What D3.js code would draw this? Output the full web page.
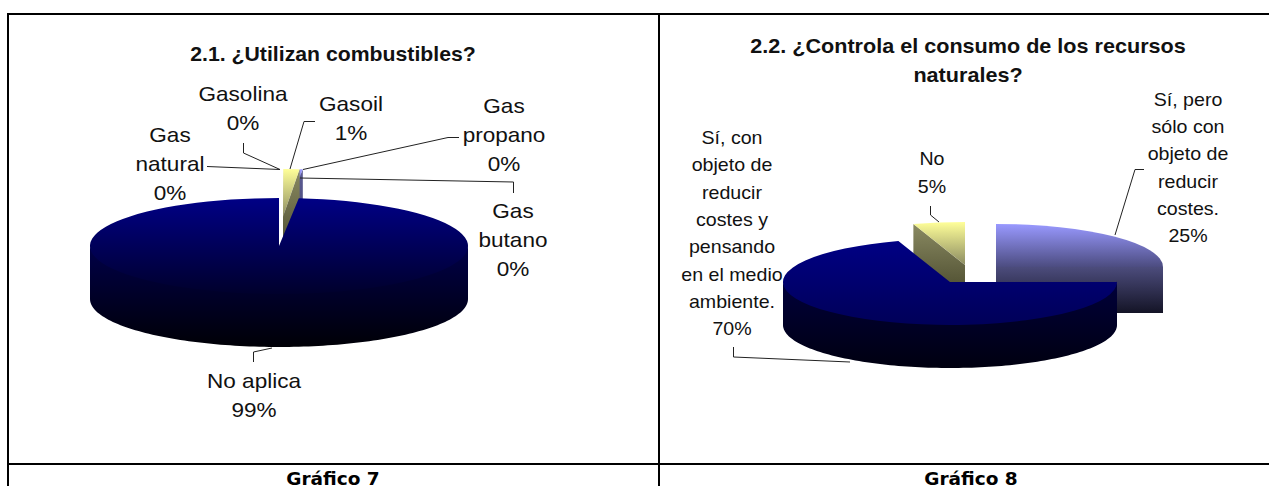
<!DOCTYPE html>
<html>
<head>
<meta charset="utf-8" />
<title>Gráficos 7 y 8</title>
<style>
  html, body { margin: 0; padding: 0; background: #fff; overflow: hidden; }
  svg { display: block; }
  text { font-family: "Liberation Sans", Arial, sans-serif; fill: #111; }
</style>
</head>
<body>
<script src="https://d3js.org/d3.v7.min.js"></script>
<script>
// data
var categories7 = ["Gas natural", "Gasolina", "Gasoil", "Gas propano", "Gas butano", "No aplica"];
var values7 = [0.02, 0.02, 1.36, 0.1, 0.17, 98.33];
var percents7 = ["0%", "0%", "1%", "0%", "0%", "99%"];

var categories8 = ["Sí, pero sólo con objeto de reducir costes.", "Sí, con objeto de reducir costes y pensando en el medio ambiente.", "No"];
var values8 = [25, 70, 5];
var percents8 = ["25%", "70%", "5%"];

var title7 = ["2.1. ¿Utilizan combustibles?"];
var title8 = ["2.2. ¿Controla el consumo de los recursos", "naturales?"];
var captions = ["Gráfico 7", "Gráfico 8"];

var width = 1269, height = 486;

// colours per slice: top start, top end, side start, side end
var navy7 = ["#000086", "#00002c", "#00004a", "#000006"];
var navy8 = ["#000084", "#000058", "#00003c", "#000010"];
var yellow = ["#ffff99", "#8c8c62", "#8a8a62", "#3f3f24"];
var periwinkle = ["#9999ff", "#4c4c80", "#4c4c7c", "#141426"];
var sliver = ["#9999ff", "#6a6aa0", "#5c5c94", "#3c3c66"];

var chart7 = {
  pie: {cx: 279, cy: 246, rx: 189, ry: 48, depth: 53},
  colors: [yellow, yellow, yellow, sliver, sliver, navy7],
  offsets: [[4, -29], [4, -29], [4, -29], [4, -29], [4, -29], [0, 0]],
  extraDepth: [0, 0, 0, 0, 0, 0],
  order: [3, 4, 0, 1, 2, 5]
};
var chart8 = {
  pie: {cx: 950, cy: 282, rx: 167, ry: 43, depth: 43},
  colors: [periwinkle, navy8, yellow],
  offsets: [[46, -15], [0, 0], [15, -17]],
  extraDepth: [3, 0, 0],
  order: [0, 2, 1]
};

var svg = d3.select("body").append("svg").attr("width", width).attr("height", height);
var defs = svg.append("defs");
var gradId = 0;

function gradient(from, to) {
  var id = "g" + (gradId++);
  var g = defs.append("linearGradient").attr("id", id).attr("x1", 0).attr("y1", 0).attr("x2", 0).attr("y2", 1);
  g.append("stop").attr("offset", 0).attr("stop-color", from);
  g.append("stop").attr("offset", 1).attr("stop-color", to);
  return "url(#" + id + ")";
}

function drawPie(values, chart) {
  var p = chart.pie;
  var arcs = d3.pie().sort(null).value(d => d).startAngle(0).endAngle(2 * Math.PI)(values);
  var arc = d3.arc().innerRadius(0).outerRadius(p.rx);
  var line = d3.line();

  chart.order.forEach(function (i) {
    var a = arcs[i], col = chart.colors[i];
    var cx = p.cx + chart.offsets[i][0], cy = p.cy + chart.offsets[i][1];
    var depth = p.depth + chart.extraDepth[i];
    var rim = t => [cx + p.rx * Math.sin(t), cy - p.ry * Math.cos(t)];
    var down = q => [q[0], q[1] + depth];
    var g = svg.append("g");
    var sideFill = gradient(col[2], col[3]);

    // cut faces, only the ones turned to the viewer
    [[a.startAngle, a.startAngle > Math.PI && a.startAngle < 2 * Math.PI],
     [a.endAngle, a.endAngle > 0 && a.endAngle < Math.PI]].forEach(function (f) {
      if (!f[1]) return;
      var e = rim(f[0]);
      g.append("path")
       .attr("d", line([[cx, cy], e, down(e), [cx, cy + depth]]) + "Z")
       .attr("fill", sideFill);
    });

    // outer wall, started 2px higher so no light seam shows under the top
    var from = Math.max(a.startAngle, Math.PI / 2), to = Math.min(a.endAngle, 3 * Math.PI / 2);
    if (to > from) {
      var ts = d3.range(0, 121).map(k => from + (to - from) * k / 120);
      var top = ts.map(rim);
      var upper = top.map(q => [q[0], q[1] - 2]);
      g.append("path")
       .attr("d", line(upper.concat(top.slice().reverse().map(down))) + "Z")
       .attr("fill", sideFill);
    }

    // top surface
    g.append("path")
     .attr("d", arc(a))
     .attr("transform", "translate(" + cx + "," + cy + ") scale(1," + (p.ry / p.rx) + ")")
     .attr("fill", gradient(col[0], col[1]));
  });
}

function leader(points) {
  svg.append("path")
     .attr("d", d3.line()(points))
     .attr("fill", "none")
     .attr("stroke", "#222")
     .attr("stroke-width", 1);
}

function label(lines, x, y, step, size, stretch, weight) {
  lines.forEach(function (t, i) {
    svg.append("text")
       .attr("transform", "translate(" + x + "," + (y + i * step) + ") scale(" + stretch + ",1)")
       .attr("text-anchor", "middle")
       .style("font-size", size + "px")
       .style("font-weight", weight || "normal")
       .text(t);
  });
}

drawPie(values7, chart7);
drawPie(values8, chart8);

// leader lines
leader([[207, 166.5], [280, 169.5]]);
leader([[243.5, 143], [243.5, 153], [280, 169.5]]);
leader([[315, 121.5], [304, 121.5], [290, 169]]);
leader([[459, 137.5], [448, 137.5], [303, 169.5]]);
leader([[513.5, 193], [513.5, 182], [300, 178]]);
leader([[253.5, 362], [253.5, 352], [272, 348]]);
leader([[930.5, 206], [930.5, 215], [939, 222]]);
leader([[1144, 169.5], [1135, 169.5], [1115, 235]]);
leader([[733.5, 347], [733.5, 357], [850, 362]]);

// labels
label(["Gas", "natural", percents7[0]], 170, 142, 29, 20.5, 1.1);
label(["Gasolina", percents7[1]], 243, 101, 29, 20.5, 1.1);
label(["Gasoil", percents7[2]], 351, 111, 29, 20.5, 1.1);
label(["Gas", "propano", percents7[3]], 504, 113, 29, 20.5, 1.1);
label(["Gas", "butano", percents7[4]], 513, 218, 29, 20.5, 1.1);
label(["No aplica", percents7[5]], 254, 388, 29, 20.5, 1.1);
label(["Sí, pero", "sólo con", "objeto de", "reducir", "costes.", percents8[0]], 1188, 106, 27.2, 18, 1.09);
label(["Sí, con", "objeto de", "reducir", "costes y", "pensando", "en el medio", "ambiente.", percents8[1]], 732, 144, 27.3, 18, 1.09);
label(["No", percents8[2]], 932, 165, 28, 18, 1.09);

// titles
label(title7, 333, 61, 29, 19.5, 1.09, "bold");
label(title8, 968, 53, 29, 19.5, 1.108, "bold");

// table rules
var rules = [[7, 14, 1269, 14], [8, 13, 8, 486], [659, 14, 659, 486], [7, 464, 1269, 464]];
svg.selectAll("line.rule").data(rules).enter().append("line")
   .attr("class", "rule")
   .attr("x1", d => d[0]).attr("y1", d => d[1]).attr("x2", d => d[2]).attr("y2", d => d[3])
   .attr("stroke", "#000").attr("stroke-width", 2);

// captions under the charts
svg.selectAll("text.caption").data(captions).enter().append("text")
   .attr("class", "caption")
   .attr("x", (d, i) => i == 0 ? 333 : 971)
   .attr("y", 484.5)
   .attr("text-anchor", "middle")
   .style("font-family", "'DejaVu Sans', sans-serif")
   .style("font-weight", "bold")
   .style("font-size", "18.5px")
   .style("fill", "#000")
   .text(d => d);
</script>
</body>
</html>
